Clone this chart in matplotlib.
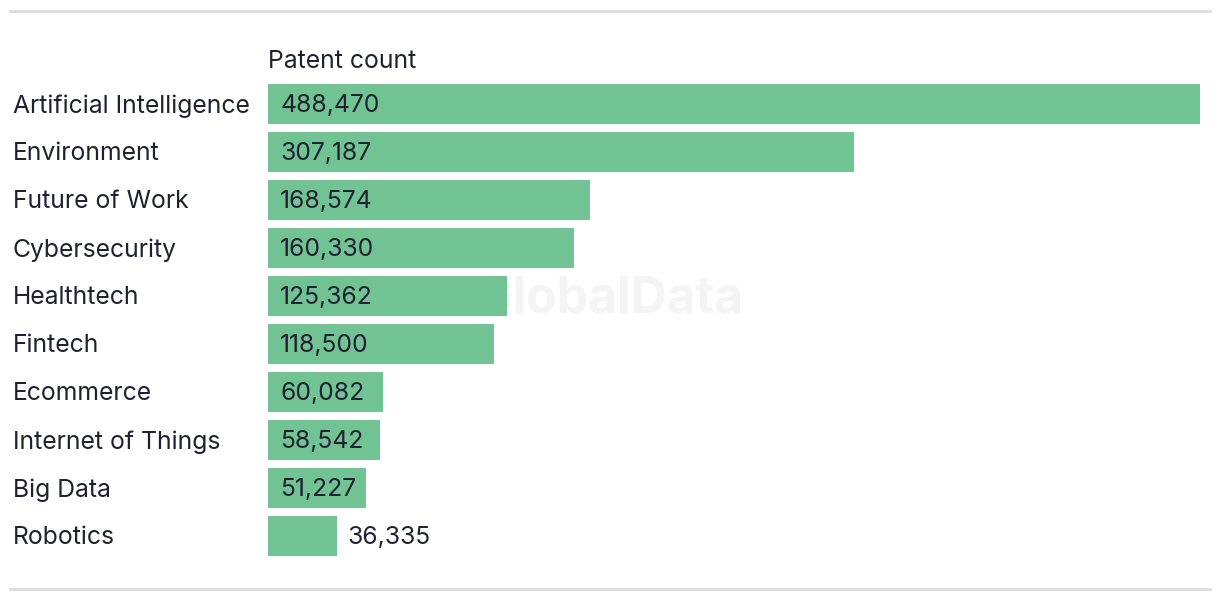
import matplotlib
matplotlib.use('Agg')
import matplotlib.pyplot as plt
from matplotlib.lines import Line2D

plt.rcParams['font.family'] = ['Inter', 'DejaVu Sans']

categories = ['Artificial Intelligence', 'Environment', 'Future of Work', 'Cybersecurity',
              'Healthtech', 'Fintech', 'Ecommerce', 'Internet of Things', 'Big Data', 'Robotics']
patents = [488470, 307187, 168574, 160330, 125362, 118500, 60082, 58542, 51227, 36335]

bar_color = '#72c393'
text_color = '#1f2133'
fs = 17.8

fig = plt.figure(figsize=(12.2, 6), dpi=100)
ax = fig.add_axes([268/1220, 1 - 560/600, 932/1220, 480/600])

ypos = list(range(len(categories)))
ax.barh(ypos, patents, height=40/48, color=bar_color, zorder=2)
ax.set_xlim(0, max(patents))
ax.set_ylim(len(categories) - 0.5, -0.5)
ax.axis('off')

# watermark, behind the bars
ax.text(610/1220, 1 - 300/600, 'GlobalData', fontsize=36, fontweight='bold',
        color='#f4f4f4', ha='center', va='center', zorder=1, transform=fig.transFigure)

# value labels: inside the bar, or outside when the bar is too short
for y, v in zip(ypos, patents):
    label = f'{v:,}'
    if v > 45000:
        ax.annotate(label, (0, y), xytext=(12, -2), textcoords='offset pixels',
                    va='center', ha='left', fontsize=fs, color=text_color, zorder=3)
    else:
        ax.annotate(label, (v, y), xytext=(10, -2), textcoords='offset pixels',
                    va='center', ha='left', fontsize=fs, color=text_color, zorder=3)

# category labels
for y, c in zip(ypos, categories):
    ax.annotate(c, (0, y), xycoords=('figure fraction', 'data'),
                xytext=(13, -2), textcoords='offset pixels',
                va='center', ha='left', fontsize=fs, color=text_color)

fig.text(268/1220, 1 - 61/600, 'Patent count', fontsize=fs, color=text_color,
         va='center', ha='left')

# top and bottom rules
fig.add_artist(Line2D([10/1220, 1210/1220], [1 - 11/600, 1 - 11/600], color='#dddddd', lw=2))
fig.add_artist(Line2D([10/1220, 1210/1220], [1 - 589/600, 1 - 589/600], color='#dddddd', lw=2))

fig.savefig('out.png', dpi=100, facecolor='white')
